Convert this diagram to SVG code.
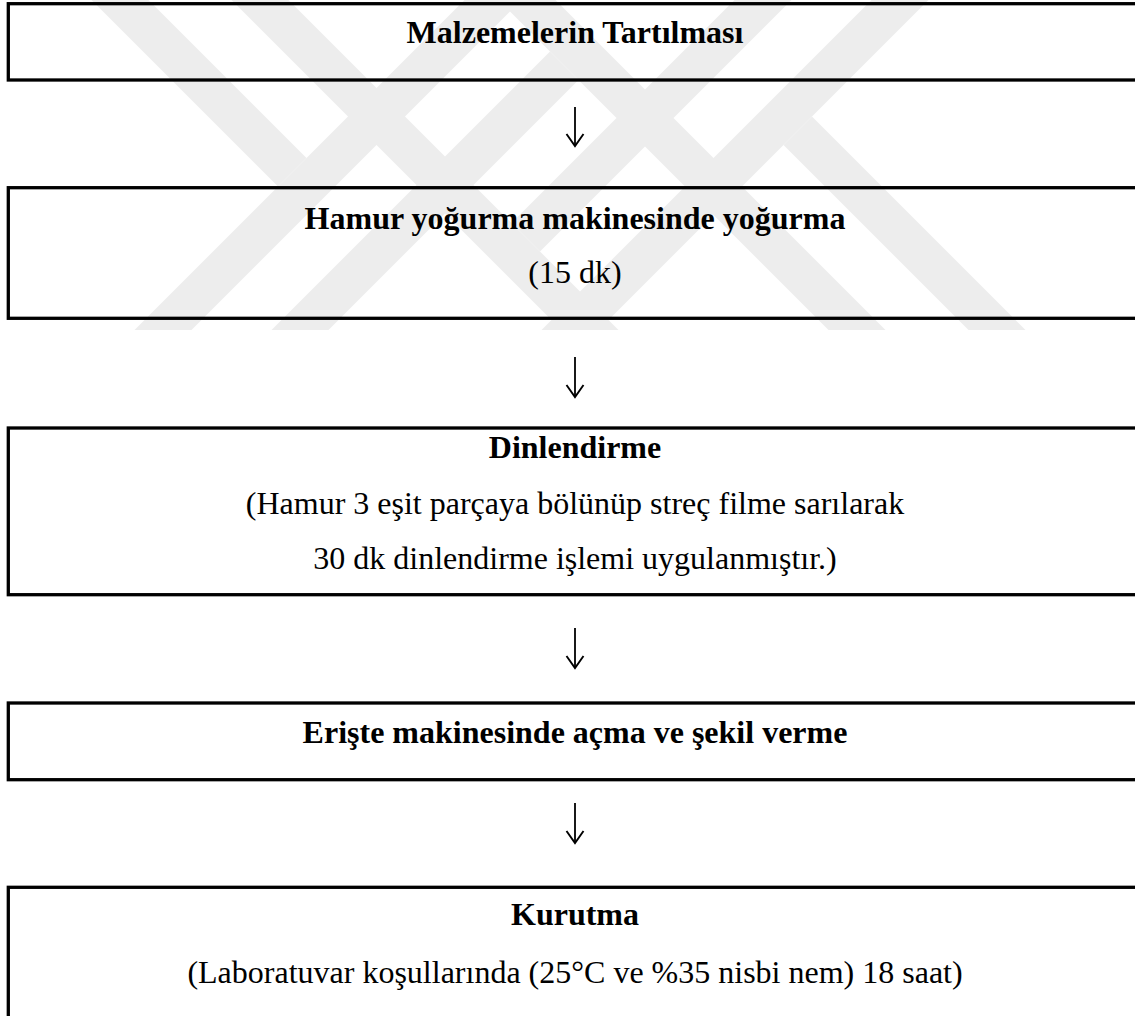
<svg xmlns="http://www.w3.org/2000/svg" width="1135" height="1016" viewBox="0 0 1135 1016">
  <style>
    .box { fill: none; stroke: #000; stroke-width: 3.3; }
    .t { font-family: "Liberation Serif", "Times New Roman", serif; font-size: 32px; fill: #000; text-anchor: middle; }
    .b { font-weight: bold; }
    .arrow { stroke: #000; stroke-width: 1.8; fill: none; marker-end: url(#head); }
    .wm { fill: #ededed; }
  </style>
  <defs>
    <marker id="head" markerUnits="userSpaceOnUse" markerWidth="16" markerHeight="20" refX="14" refY="10" orient="auto" viewBox="0 0 16 20">
      <path d="M2,1.5 L14,10 L2,18.5" fill="none" stroke="#000" stroke-width="1.9"/>
    </marker>
    <clipPath id="wmclip"><rect x="0" y="0" width="1135" height="331"/></clipPath>
  </defs>
  <rect width="1135" height="1016" fill="#fff"/>

  <g id="watermark" clip-path="url(#wmclip)">
    <polygon class="wm" points="91.5,0 148.5,0 306.5,158 278,186.5"/>
    <polygon class="wm" points="464.5,0 521.5,0 191.5,330 134.5,330"/>
    <polygon class="wm" points="231.5,0 288.5,0 618.5,330 561.5,330"/>
    <polygon class="wm" points="271.5,330 328.5,330 578.5,80 550,51.5"/>
    <polygon class="wm" points="498.5,0 555.5,0 885.5,330 828.5,330"/>
    <polygon class="wm" points="734.5,0 791.5,0 540,251.5 511.5,223"/>
    <polygon class="wm" points="871.5,0 928.5,0 598.5,330 541.5,330"/>
    <polygon class="wm" points="812,116.5 1025.5,330 968.5,330 783.5,145"/>
  </g>

  <g id="n1">
    <rect class="box" x="8.3" y="3.7" width="1140" height="76.3"/>
    <text class="t b" x="575" y="43">Malzemelerin Tartılması</text>
  </g>
  <g id="n2">
    <rect class="box" x="8.3" y="187.7" width="1140" height="130.6"/>
    <text class="t b" x="575" y="229">Hamur yoğurma makinesinde yoğurma</text>
    <text class="t" x="575" y="283">(15 dk)</text>
  </g>
  <g id="n3">
    <rect class="box" x="8.3" y="428" width="1140" height="166.7"/>
    <text class="t b" x="575" y="458">Dinlendirme</text>
    <text class="t" x="575" y="514">(Hamur 3 eşit parçaya bölünüp streç filme sarılarak</text>
    <text class="t" x="575" y="569">30 dk dinlendirme işlemi uygulanmıştır.)</text>
  </g>
  <g id="n4">
    <rect class="box" x="8.3" y="703" width="1140" height="76.7"/>
    <text class="t b" x="575" y="743">Erişte makinesinde açma ve şekil verme</text>
  </g>
  <g id="n5">
    <rect class="box" x="8.3" y="887.3" width="1140" height="160"/>
    <text class="t b" x="575" y="925">Kurutma</text>
    <text class="t" x="575" y="983">(Laboratuvar koşullarında (25°C ve %35 nisbi nem) 18 saat)</text>
  </g>

  <g id="connectors">
    <line class="arrow" x1="575" y1="107" x2="575" y2="146"/>
    <line class="arrow" x1="575" y1="357" x2="575" y2="397"/>
    <line class="arrow" x1="575" y1="628" x2="575" y2="668"/>
    <line class="arrow" x1="575" y1="803" x2="575" y2="843"/>
  </g>
</svg>
